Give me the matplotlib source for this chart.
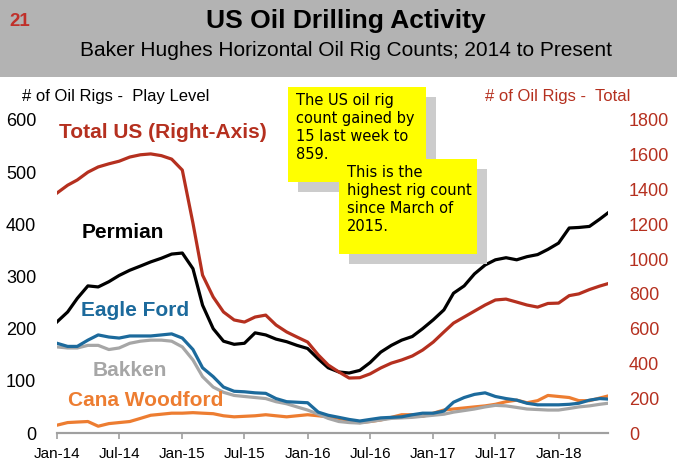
import matplotlib
matplotlib.use("Agg")
import matplotlib.pyplot as plt
import matplotlib.dates as mdates
from matplotlib.patches import Rectangle
import pandas as pd

# ── Data (monthly readings, rigs) ────────────────────────────────
dates = list(pd.date_range("2014-01-01", "2018-05-01", freq="MS")) + [pd.Timestamp("2018-05-25")]

total_us = [1380, 1425, 1455, 1500, 1530, 1548, 1563, 1587, 1600, 1605, 1595, 1575,
            1512, 1207, 908, 782, 696, 650, 638, 667, 678, 621, 581, 552,
            523, 449, 391, 351, 316, 318, 340, 374, 402, 420, 443, 477,
            523, 581, 632, 667, 701, 736, 765, 770, 753, 736, 724, 745,
            747, 790, 800, 825, 845, 859]

permian = [213, 232, 258, 282, 280, 290, 302, 312, 320, 328, 335, 343,
           345, 315, 245, 200, 176, 170, 172, 192, 188, 180, 175, 168,
           162, 142, 125, 117, 115, 120, 135, 155, 168, 178, 185, 200,
           217, 236, 268, 282, 305, 322, 332, 336, 332, 338, 342, 352,
           364, 393, 394, 396, 410, 422]

eagle_ford = [172, 166, 166, 178, 188, 184, 182, 186, 186, 186, 188, 190,
              182, 160, 125, 108, 88, 80, 79, 77, 76, 66, 60, 59,
              58, 40, 34, 30, 26, 23, 26, 29, 30, 31, 35, 38,
              38, 42, 59, 68, 74, 77, 70, 66, 63, 57, 54, 54,
              54, 55, 57, 63, 66, 65]

bakken = [165, 163, 163, 168, 168, 160, 163, 172, 176, 178, 178, 176,
          165, 140, 108, 88, 78, 72, 70, 68, 66, 60, 56, 50,
          44, 36, 28, 22, 20, 19, 22, 25, 28, 29, 30, 32,
          34, 36, 40, 43, 46, 50, 53, 52, 49, 46, 45, 44,
          44, 47, 50, 52, 55, 57]

cana_woodford = [15, 20, 21, 22, 13, 18, 20, 22, 28, 34, 36, 38,
                 38, 39, 38, 37, 33, 31, 32, 33, 35, 33, 31, 33,
                 35, 33, 31, 28, 24, 20, 22, 25, 30, 35, 35, 32,
                 38, 44, 46, 48, 50, 52, 55, 60, 63, 58, 62, 72,
                 70, 68, 62, 62, 67, 71]

# ── Style ────────────────────────────────────────────────────────
plt.rcParams["font.family"] = ["Liberation Sans", "DejaVu Sans"]

RED = "#b5301f"
BLUE = "#1c6a9c"
GRAY = "#a6a6a6"
ORANGE = "#ed7d31"
W, H = 677, 470


def fx(x):
    return x / W


def fy(y):
    return 1 - y / H


fig = plt.figure(figsize=(6.77, 4.70), dpi=100)

# header band
fig.patches.append(Rectangle((0, fy(77)), 1, 77 / H, transform=fig.transFigure,
                             facecolor="#b3b3b3", edgecolor="none", zorder=0))
fig.text(fx(9), fy(21), "21", color="#c0302a", fontsize=13.5, fontweight="bold",
         ha="left", va="center")
fig.text(fx(346), fy(21), "US Oil Drilling Activity", fontsize=19,
         fontweight="bold", ha="center", va="center")
fig.text(fx(346), fy(50), "Baker Hughes Horizontal Oil Rig Counts; 2014 to Present",
         fontsize=15, ha="center", va="center")

# ── Axes ─────────────────────────────────────────────────────────
ax = fig.add_axes([fx(57), fy(433), fx(608) - fx(57), (433 - 120) / H])
ax2 = ax.twinx()

ax.plot(dates, cana_woodford, color=ORANGE, lw=2.3, zorder=3)
ax.plot(dates, bakken, color=GRAY, lw=2.3, zorder=4)
ax.plot(dates, eagle_ford, color=BLUE, lw=2.3, zorder=5)
ax.plot(dates, permian, color="black", lw=2.3, zorder=6)
ax2.plot(dates, total_us, color=RED, lw=2.3)

ax.set_ylim(0, 600)
ax2.set_ylim(0, 1800)
ax.set_xlim(pd.Timestamp("2014-01-01"), pd.Timestamp("2018-05-25"))
ax.set_yticks(range(0, 601, 100))
ax2.set_yticks(range(0, 1801, 200))

ax.xaxis.set_major_locator(mdates.MonthLocator(bymonth=[1, 7]))
ax.xaxis.set_major_formatter(mdates.DateFormatter("%b-%y"))

for a in (ax, ax2):
    for s in ("top", "left", "right"):
        a.spines[s].set_visible(False)
    a.spines["bottom"].set_color("#a0a0a0")
    a.spines["bottom"].set_linewidth(1.5)

ax.tick_params(axis="x", length=4, width=1.2, color="#a0a0a0", pad=6,
               labelsize=11)
ax.tick_params(axis="y", length=0, pad=15, labelsize=13)
ax2.tick_params(axis="y", length=0, pad=15, labelsize=13, labelcolor=RED)

# axis titles
fig.text(fx(22), fy(97), "# of Oil Rigs -  Play Level", fontsize=12,
         ha="left", va="center")
fig.text(fx(630), fy(97), "# of Oil Rigs -  Total", fontsize=12,
         color=RED, ha="right", va="center")

# series labels
fig.text(fx(59), fy(132), "Total US (Right-Axis)", fontsize=15,
         fontweight="bold", color=RED, ha="left", va="center")
fig.text(fx(82), fy(233), "Permian", fontsize=15, fontweight="bold",
         color="black", ha="left", va="center")
fig.text(fx(81), fy(311), "Eagle Ford", fontsize=15, fontweight="bold",
         color=BLUE, ha="left", va="center")
fig.text(fx(93), fy(371), "Bakken", fontsize=15, fontweight="bold",
         color=GRAY, ha="left", va="center")
fig.text(fx(68), fy(401), "Cana Woodford", fontsize=15, fontweight="bold",
         color=ORANGE, ha="left", va="center")

# ── Note boxes ───────────────────────────────────────────────────
notes = [
    ((288, 87, 426, 182), "The US oil rig\ncount gained by\n15 last week to\n859."),
    ((339, 159, 477, 254), "This is the\nhighest rig count\nsince March of\n2015."),
]
for (x0, y0, x1, y1), txt in notes:
    fig.patches.append(Rectangle((fx(x0 + 10), fy(y1 + 10)), fx(x1 - x0), (y1 - y0) / H,
                                 transform=fig.transFigure, facecolor="#cccccc",
                                 edgecolor="none", zorder=10))
    fig.patches.append(Rectangle((fx(x0), fy(y1)), fx(x1 - x0), (y1 - y0) / H,
                                 transform=fig.transFigure, facecolor="#ffff00",
                                 edgecolor="none", zorder=11))
    fig.text(fx(x0 + 8), fy(y0 + 6), txt, fontsize=10.5, va="top", ha="left",
             linespacing=1.25, family=["DejaVu Sans"], zorder=12)

fig.savefig("out.png", dpi=100)
